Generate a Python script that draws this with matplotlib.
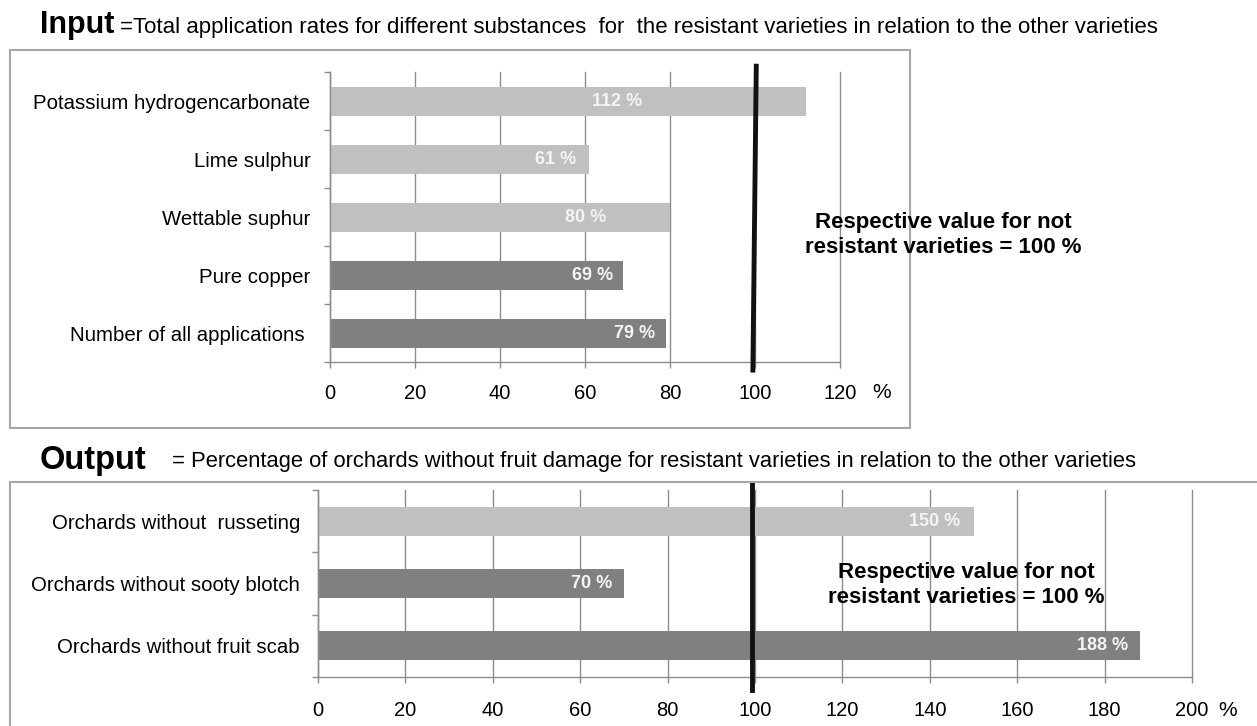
import matplotlib.pyplot as plt
import matplotlib.patches as mpatches
from matplotlib.transforms import blended_transform_factory

# data
input_labels = ['Potassium hydrogencarbonate', 'Lime sulphur', 'Wettable suphur',
                'Pure copper', 'Number of all applications ']
input_values = [112, 61, 80, 69, 79]
input_dark = [False, False, False, True, True]

output_labels = ['Orchards without  russeting', 'Orchards without sooty blotch',
                 'Orchards without fruit scab']
output_values = [150, 70, 188]
output_dark = [False, True, True]

input_ticks = [0, 20, 40, 60, 80, 100, 120]
output_ticks = [0, 20, 40, 60, 80, 100, 120, 140, 160, 180, 200]

# manual nudges for value labels (units left of bar end)
input_shift = [38.5, 3, 15, 2.5, 2.5]
output_shift = [3, 2.7, 2.6]

plt.rcParams['font.family'] = ['Liberation Sans', 'DejaVu Sans']

W, H = 1257, 726
LIGHT, DARK = '#c0c0c0', '#808080'
GRID = '#8c8c8c'

fig = plt.figure(figsize=(W / 100, H / 100), dpi=100)


def px(x0, y0, x1, y1):
    # pixel box (top-left origin) -> figure fraction rect
    return [x0 / W, 1 - y1 / H, (x1 - x0) / W, (y1 - y0) / H]


def frame(x0, y0, x1, y1):
    r = mpatches.Rectangle((x0 / W, 1 - y1 / H), (x1 - x0) / W, (y1 - y0) / H,
                           transform=fig.transFigure, fill=False,
                           edgecolor='#a6a6a6', lw=1.5, clip_on=False)
    fig.patches.append(r)


def bar_panel(ax, labels, values, dark, ticks, shift, bar_h, xlab_pad, ypad):
    n = len(values)
    pos = list(range(n))
    colors = [DARK if d else LIGHT for d in dark]
    ax.barh(pos, values, height=bar_h, color=colors, zorder=2)
    ax.set_ylim(n - 0.5, -0.5)
    ax.set_xlim(ticks[0], ticks[-1])
    ax.set_xticks(ticks)
    ax.set_yticks(pos)
    ax.set_yticklabels(labels, fontsize=14.7)
    ax.set_yticks([p - 0.5 for p in pos] + [n - 0.5], minor=True)
    ax.tick_params(axis='y', which='major', length=0, pad=ypad)
    ax.tick_params(axis='y', which='minor', length=4, color=GRID, width=1)
    ax.tick_params(axis='x', length=4, color=GRID, width=1, labelsize=14.5, pad=xlab_pad)
    ax.grid(axis='x', color=GRID, lw=1, zorder=0)
    for g in ax.get_xgridlines():
        g.set_clip_on(False)
    for s in ['top', 'right']:
        ax.spines[s].set_visible(False)
    for s in ['left', 'bottom']:
        ax.spines[s].set_color(GRID)
        ax.spines[s].set_linewidth(1)
    for p, v, sh in zip(pos, values, shift):
        ax.text(v - sh, p, f'{v} %', ha='right', va='center', color='#f4f4f4',
                fontsize=13, fontweight='bold', zorder=3)


# ---- Input panel
frame(10, 50, 910, 428)
ax1 = fig.add_axes(px(330, 72, 840, 362))
bar_panel(ax1, input_labels, input_values, input_dark, input_ticks, input_shift,
          0.5, 12, 14)
tr1 = blended_transform_factory(ax1.transData, ax1.transAxes)
ax1.plot([100.3, 99.5], [1.02, -0.028], color='#111111', lw=3.5,
         transform=tr1, clip_on=False, zorder=4)

fig.text(40 / W, 1 - 25 / H, 'Input', fontsize=22, fontweight='bold', va='center')
fig.text(120 / W, 1 - 27 / H,
         '=Total application rates for different substances  for  the resistant varieties in relation to the other varieties',
         fontsize=16, va='center')
fig.text(943 / W, 1 - 235 / H, 'Respective value for not\nresistant varieties = 100 %',
         fontsize=16, fontweight='bold', ha='center', va='center', linespacing=1.3)
fig.text(882 / W, 1 - 393 / H, '%', fontsize=15, ha='center', va='center')

# ---- Output panel
frame(10, 482, 1262, 740)
ax2 = fig.add_axes(px(318, 490, 1192, 677))
bar_panel(ax2, output_labels, output_values, output_dark, output_ticks, output_shift,
          0.46, 13, 13)
tr2 = blended_transform_factory(ax2.transData, ax2.transAxes)
ax2.plot([99.4, 99.4], [1.04, -0.07], color='#111111', lw=3.5,
         transform=tr2, clip_on=False, zorder=4)

fig.text(40 / W, 1 - 460 / H, 'Output', fontsize=23.5, fontweight='bold', va='center')
fig.text(172 / W, 1 - 462 / H,
         '= Percentage of orchards without fruit damage for resistant varieties in relation to the other varieties',
         fontsize=15.8, va='center')
fig.text(966 / W, 1 - 585 / H, 'Respective value for not\nresistant varieties = 100 %',
         fontsize=16, fontweight='bold', ha='center', va='center', linespacing=1.3)
fig.text(1228 / W, 1 - 710 / H, '%', fontsize=15, ha='center', va='center')

fig.savefig('out.png', dpi=100)
